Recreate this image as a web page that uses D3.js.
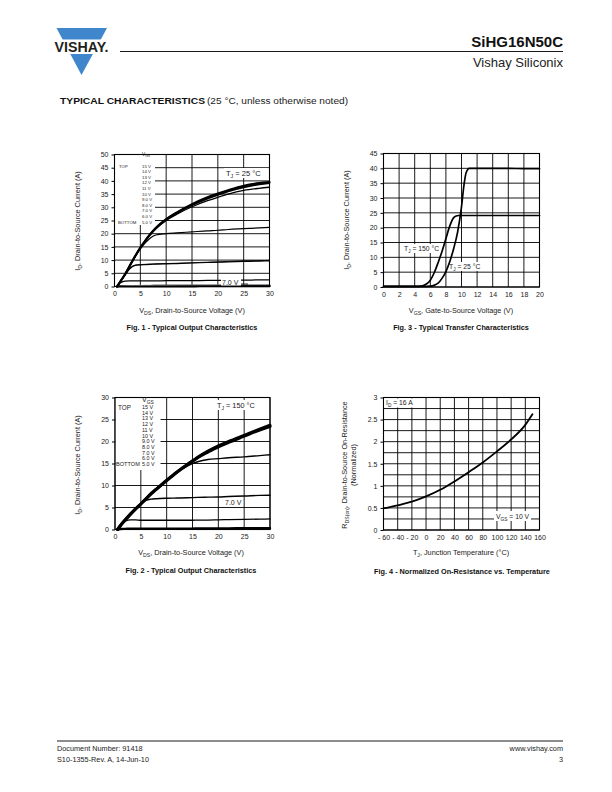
<!DOCTYPE html>
<html><head><meta charset="utf-8">
<script src="https://cdn.jsdelivr.net/npm/d3@7"></script>
<style>
body{margin:0;background:#fff}
svg{display:block;font-family:"Liberation Sans",Arial,Helvetica,sans-serif}
</style>
</head><body>
<svg id="page" width="612" height="792"></svg>
<script>
// ---------------- DATA ----------------
// Fig. 1 - Output characteristics, TJ = 25 °C
const fig1Vds   = [0.5, 1, 2, 3, 4, 5, 6, 7, 8, 10, 12, 15, 18, 20, 22, 25, 28, 30];
const fig1Id15  = [0, 1.5, 4.5, 8, 11.5, 14.7, 17.5, 20, 22.2, 25.5, 28, 31.2, 33.8, 35.2, 36.5, 38.2, 39.2, 39.6];
const fig1Id10  = [0, 1.5, 4.5, 8, 11.5, 14.7, 17.5, 20, 22.2, 25.3, 27.8, 30.8, 33.3, 34.7, 36, 37.6, 38.7, 39.2];
const fig1Id8   = [0, 1.5, 4.5, 8, 11.4, 14.6, 17.3, 19.7, 21.8, 25, 27.3, 30.2, 32.5, 33.8, 35, 36.4, 37.2, 37.6];
const fig1Id7   = [0, 1.5, 4.5, 8, 11.3, 14.2, 16.6, 18.5, 19.5, 20, 20.3, 20.7, 21.1, 21.3, 21.6, 21.9, 22.2, 22.4];
const fig1Id6   = [0, 1.4, 4.2, 6.8, 8, 8.2, 8.3, 8.4, 8.5, 8.6, 8.7, 8.9, 9.1, 9.2, 9.3, 9.5, 9.6, 9.7];
const fig1Id6b  = [0, 1.4, 4.2, 6.9, 8.1, 8.3, 8.4, 8.5, 8.6, 8.7, 8.8, 9.0, 9.2, 9.3, 9.5, 9.7, 9.8, 9.9];
const fig1Id5   = [0, 1.2, 2.0, 2.1, 2.1, 2.1, 2.1, 2.1, 2.1, 2.2, 2.2, 2.2, 2.3, 2.3, 2.4, 2.4, 2.5, 2.5];
const fig1IdLow = [0, 0.2, 0.3, 0.35, 0.4, 0.4, 0.45, 0.45, 0.5, 0.5, 0.55, 0.6, 0.6, 0.65, 0.65, 0.7, 0.7, 0.7];
const fig1Id0   = [0, 0.1, 0.1, 0.1, 0.1, 0.1, 0.1, 0.1, 0.15, 0.15, 0.15, 0.15, 0.2, 0.2, 0.2, 0.2, 0.2, 0.2];
const fig1Legend = ["15 V","14 V","13 V","12 V","11 V","10 V","9.0 V","8.0 V","7.0 V","6.0 V","5.0 V"];

// Fig. 2 - Output characteristics, TJ = 150 °C
const fig2Vds   = [0.5, 1, 2, 3, 4, 5, 6, 7, 8, 10, 12, 14, 15, 16, 18, 20, 22, 25, 28, 30];
const fig2Id15  = [0, 0.8, 2.2, 3.5, 4.7, 5.8, 7, 8.2, 9.2, 11.2, 13.1, 14.8, 15.6, 16.4, 17.8, 19, 20, 21.4, 22.8, 23.7];
const fig2Id14  = [0, 0.8, 2.2, 3.5, 4.7, 5.8, 7, 8.1, 9.1, 11.1, 13.0, 14.7, 15.5, 16.3, 17.6, 18.8, 19.8, 21.2, 22.6, 23.4];
const fig2Id8   = [0, 0.8, 2.2, 3.5, 4.7, 5.8, 7, 8.1, 9.1, 11.1, 13.0, 14.4, 15.0, 15.4, 15.9, 16.1, 16.3, 16.5, 16.8, 17.0];
const fig2Id7   = [0, 0.8, 2.2, 3.5, 4.7, 5.7, 6.6, 6.9, 7.0, 7.1, 7.15, 7.2, 7.25, 7.3, 7.35, 7.4, 7.5, 7.6, 7.75, 7.8];
const fig2Id6   = [0, 0.8, 1.9, 2.2, 2.2, 2.1, 2.1, 2.1, 2.1, 2.1, 2.1, 2.1, 2.1, 2.15, 2.15, 2.2, 2.25, 2.3, 2.35, 2.4];
const fig2Id0   = [0, 0.1, 0.15, 0.2, 0.2, 0.2, 0.2, 0.2, 0.2, 0.2, 0.2, 0.2, 0.2, 0.25, 0.25, 0.25, 0.25, 0.3, 0.3, 0.3];
const fig2Legend = fig1Legend;

// Fig. 3 - Transfer characteristics
const fig3Vgs25  = [0, 2, 4, 5, 6, 6.5, 7, 7.5, 8, 8.5, 9, 9.5, 10, 10.3, 10.6, 11, 12, 14, 16, 18, 20];
const fig3Id25   = [0.2, 0.2, 0.2, 0.2, 0.3, 0.6, 1.3, 2.9, 5.2, 8.6, 13, 18.5, 27, 34, 38.6, 40, 40, 40, 40, 39.9, 39.9];
const fig3Vgs150 = [0, 2, 4, 5, 5.5, 6, 6.5, 7, 7.5, 8, 8.5, 9, 9.3, 9.6, 10, 12, 14, 16, 18, 20];
const fig3Id150  = [0.2, 0.2, 0.2, 0.4, 1.0, 2.3, 4.8, 8.2, 12, 16.3, 20.6, 23.4, 23.9, 24.1, 24.1, 24.1, 24.1, 24.1, 24.1, 24.1];

// Fig. 4 - Normalized on-resistance vs. temperature
const fig4Tj  = [-60, -40, -20, 0, 20, 40, 60, 80, 100, 120, 140, 150];
const fig4Rds = [0.49, 0.56, 0.64, 0.76, 0.91, 1.1, 1.31, 1.53, 1.78, 2.05, 2.38, 2.62];

// tick values
const ticks0to30by5 = [0, 5, 10, 15, 20, 25, 30];
const ticks0to50by5 = [0, 5, 10, 15, 20, 25, 30, 35, 40, 45, 50];
const ticks0to45by5 = [0, 5, 10, 15, 20, 25, 30, 35, 40, 45];
const ticks0to20by2 = [0, 2, 4, 6, 8, 10, 12, 14, 16, 18, 20];
const ticksTemp = [-60, -40, -20, 0, 20, 40, 60, 80, 100, 120, 140, 160];
const ticksRds  = [0, 0.5, 1, 1.5, 2, 2.5, 3];
const gridRds   = [0, 0.25, 0.5, 0.75, 1, 1.25, 1.5, 1.75, 2, 2.25, 2.5, 2.75, 3];

// ---------------- DRAWING ----------------
const svg = d3.select("#page");
const FONT = '"Liberation Sans",Arial,Helvetica,sans-serif';

// rich text with subscripts: segs = [[text, isSub], ...]
function rich(parent, x, y, segs, size, opts = {}) {
  const t = parent.append("text").attr("x", x).attr("y", y)
    .attr("font-size", size).attr("fill", opts.fill || "#222")
    .attr("text-anchor", opts.anchor || "start");
  if (opts.weight) t.attr("font-weight", opts.weight);
  if (opts.rotate) t.attr("transform", `rotate(${opts.rotate},${x},${y})`);
  let sub = false;
  segs.forEach(([s, isSub]) => {
    const ts = t.append("tspan").text(s);
    if (isSub && !sub) { ts.attr("dy", size * 0.3).attr("font-size", size * 0.7); sub = true; }
    else if (isSub) { ts.attr("font-size", size * 0.7); }
    else if (!isSub && sub) { ts.attr("dy", -size * 0.3); sub = false; }
  });
  return t;
}

function whiteBox(parent, x, y, w, h) {
  parent.append("rect").attr("x", x).attr("y", y).attr("width", w).attr("height", h).attr("fill", "#fff");
}

function panel(cfg) {
  const g = svg.append("g");
  const x = d3.scaleLinear().domain(cfg.xDomain).range([cfg.x0, cfg.x1]);
  const y = d3.scaleLinear().domain(cfg.yDomain).range([cfg.y1, cfg.y0]);
  // grid
  g.append("g").selectAll("line").data(cfg.xGrid).join("line")
    .attr("x1", d => x(d)).attr("x2", d => x(d)).attr("y1", cfg.y0).attr("y2", cfg.y1)
    .attr("stroke", "#000").attr("stroke-width", 0.9);
  g.append("g").selectAll("line").data(cfg.yGrid).join("line")
    .attr("y1", d => y(d)).attr("y2", d => y(d)).attr("x1", cfg.x0).attr("x2", cfg.x1)
    .attr("stroke", "#000").attr("stroke-width", 0.9);
  // axes
  const ya = g.append("g").attr("transform", `translate(${cfg.x0},0)`)
    .call(d3.axisLeft(y).tickValues(cfg.yTicks).tickSize(3).tickPadding(3).tickFormat(cfg.yFmt || (d => d)));
  ya.select(".domain").remove();
  ya.selectAll("text").attr("font-size", 7).attr("font-family", FONT).attr("fill", "#222");
  ya.selectAll("line").attr("stroke", "#000");
  const xa = g.append("g").attr("transform", `translate(0,${cfg.y1})`)
    .call(d3.axisBottom(x).tickValues(cfg.xTicks).tickSize(0).tickPadding(5).tickFormat(cfg.xFmt || (d => d)));
  xa.select(".domain").remove();
  xa.selectAll("text").attr("font-size", 7).attr("font-family", FONT).attr("fill", "#222");
  // legend box (covers grid)
  if (cfg.legendBox) whiteBox(g, cfg.x0 + 0.5, cfg.y0 + 0.5, cfg.legendBox[0], cfg.legendBox[1]);
  // layer for labels drawn beneath the curves
  const under = g.append("g");
  // curves
  const line = d3.line().x(d => x(d[0])).y(d => y(d[1])).curve(d3.curveMonotoneX);
  cfg.series.forEach(s => {
    g.append("path").datum(s.xs.map((v, i) => [v, s.ys[i]]))
      .attr("d", line).attr("fill", "none").attr("stroke", s.color || "#000")
      .attr("stroke-width", s.w).attr("stroke-linejoin", "round").attr("stroke-linecap", "round");
  });
  // frame
  g.append("rect").attr("x", cfg.x0).attr("y", cfg.y0).attr("width", cfg.x1 - cfg.x0).attr("height", cfg.y1 - cfg.y0)
    .attr("fill", "none").attr("stroke", "#000").attr("stroke-width", 1.1);
  return { g, under, x, y };
}

// ---------- Header ----------
const blue = "#3f86cc";
svg.append("path").attr("d", "M56.5,28 L107,28 L81.5,75 Z").attr("fill", blue);
svg.append("rect").attr("x", 50).attr("y", 39.5).attr("width", 62).attr("height", 14.5).attr("fill", "#fff");
svg.append("text").attr("x", 54.5).attr("y", 52.3).attr("font-size", 14).attr("font-weight", 900)
  .attr("textLength", 54).attr("lengthAdjust", "spacingAndGlyphs").attr("fill", "#231f20").text("VISHAY.");
svg.append("line").attr("x1", 120).attr("x2", 563).attr("y1", 51.5).attr("y2", 51.5).attr("stroke", "#000").attr("stroke-width", 0.9);
svg.append("text").attr("x", 563).attr("y", 47).attr("text-anchor", "end").attr("font-size", 15).attr("font-weight", "bold")
  .attr("fill", "#111").text("SiHG16N50C");
svg.append("text").attr("x", 563).attr("y", 66.5).attr("text-anchor", "end").attr("font-size", 13)
  .attr("fill", "#222").text("Vishay Siliconix");
svg.append("text").attr("x", 60).attr("y", 104).attr("font-size", 8.5).attr("font-weight", 900)
  .attr("textLength", 145).attr("lengthAdjust", "spacingAndGlyphs").attr("fill", "#111").text("TYPICAL CHARACTERISTICS");
svg.append("text").attr("x", 207).attr("y", 104).attr("font-size", 8.5)
  .attr("textLength", 141).attr("lengthAdjust", "spacingAndGlyphs")
  .attr("fill", "#222").text("(25 °C, unless otherwise noted)");

// ---------- Fig. 1 ----------
{
  const p = panel({
    x0: 114.5, x1: 269.5, y0: 154.5, y1: 286.5, xDomain: [0, 30], yDomain: [0, 50],
    xTicks: ticks0to30by5, yTicks: ticks0to50by5, xGrid: ticks0to30by5, yGrid: ticks0to50by5,
    legendBox: [40, 70],
    series: [
      { xs: fig1Vds, ys: fig1Id0, w: 2.6 },
      { xs: fig1Vds, ys: fig1IdLow, w: 0.8, color: "#888" },
      { xs: fig1Vds, ys: fig1Id5, w: 1.2 },
      { xs: fig1Vds, ys: fig1Id6, w: 1.2 },
      { xs: fig1Vds, ys: fig1Id6b, w: 0.9 },
      { xs: fig1Vds, ys: fig1Id7, w: 1.2 },
      { xs: fig1Vds, ys: fig1Id8, w: 1.3 },
      { xs: fig1Vds, ys: fig1Id10, w: 1.9 },
      { xs: fig1Vds, ys: fig1Id15, w: 2.1 }
    ]
  });
  const g = p.g;
  rich(g, 142, 156, [["V", false], ["GS", true]], 4.8);
  g.append("text").attr("x", 119).attr("y", 167.5).attr("font-size", 4.3).attr("fill", "#222").text("TOP");
  g.selectAll(".lg").data(fig1Legend).join("text").attr("x", 142)
    .attr("y", (d, i) => 167.5 + i * 5.6).attr("font-size", 4.3).attr("fill", "#222").text(d => d);
  g.append("text").attr("x", 118).attr("y", 223.5).attr("font-size", 4.3).attr("fill", "#222").text("BOTTOM");
  whiteBox(g, 224, 168, 44, 10);
  rich(g, 226, 176, [["T", false], ["J", true], [" = 25 °C", false]], 7.5);
  whiteBox(g, 221, 278.5, 20, 7);
  g.append("text").attr("x", 222).attr("y", 284.5).attr("font-size", 7).attr("fill", "#222").text("7.0 V");
  g.append("line").attr("x1", 241).attr("x2", 248).attr("y1", 284).attr("y2", 284).attr("stroke", "#000").attr("stroke-width", 0.8);
  rich(g, 192, 313, [["V", false], ["DS", true], [", Drain-to-Source Voltage (V)", false]], 7.3, { anchor: "middle" });
  rich(g, 80, 221, [["I", false], ["D", true], [", Drain-to-Source Current (A)", false]], 7.3, { anchor: "middle", rotate: -90 });
  g.append("text").attr("x", 192).attr("y", 329.5).attr("text-anchor", "middle").attr("font-size", 7.3)
    .attr("font-weight", "bold").attr("fill", "#111").text("Fig. 1 - Typical Output Characteristics");
}

// ---------- Fig. 3 ----------
{
  const p = panel({
    x0: 383.5, x1: 539.5, y0: 153.5, y1: 287, xDomain: [0, 20], yDomain: [0, 45],
    xTicks: ticks0to20by2, yTicks: ticks0to45by5, xGrid: ticks0to20by2, yGrid: ticks0to45by5,
    series: [
      { xs: fig3Vgs150, ys: fig3Id150, w: 1.7 },
      { xs: fig3Vgs25, ys: fig3Id25, w: 1.7 }
    ]
  });
  const g = p.g, u = p.under;
  whiteBox(u, 403, 244, 38, 9);
  rich(u, 404, 251, [["T", false], ["J", true], [" = 150 °C", false]], 6.8);
  whiteBox(u, 448, 262, 36, 9);
  rich(u, 449, 269, [["T", false], ["J", true], [" = 25 °C", false]], 6.8);
  rich(g, 461, 313, [["V", false], ["GS", true], [", Gate-to-Source Voltage (V)", false]], 7.3, { anchor: "middle" });
  rich(g, 349, 220, [["I", false], ["D", true], [", Drain-to-Source Current (A)", false]], 7.3, { anchor: "middle", rotate: -90 });
  g.append("text").attr("x", 461).attr("y", 329.5).attr("text-anchor", "middle").attr("font-size", 7.3)
    .attr("font-weight", "bold").attr("fill", "#111").text("Fig. 3 - Typical Transfer Characteristics");
}

// ---------- Fig. 2 ----------
{
  const p = panel({
    x0: 115, x1: 270, y0: 397.5, y1: 529.5, xDomain: [0, 30], yDomain: [0, 30],
    xTicks: ticks0to30by5, yTicks: ticks0to30by5, xGrid: ticks0to30by5, yGrid: ticks0to30by5,
    legendBox: [45, 72],
    series: [
      { xs: fig2Vds, ys: fig2Id0, w: 2.4 },
      { xs: fig2Vds, ys: fig2Id6, w: 1.3 },
      { xs: fig2Vds, ys: fig2Id7, w: 1.4 },
      { xs: fig2Vds, ys: fig2Id8, w: 1.4 },
      { xs: fig2Vds, ys: fig2Id14, w: 3 },
      { xs: fig2Vds, ys: fig2Id15, w: 3 }
    ]
  });
  const g = p.g;
  rich(g, 142, 402, [["V", false], ["GS", true]], 7);
  g.append("text").attr("x", 118).attr("y", 410).attr("font-size", 6.3).attr("fill", "#222").text("TOP");
  g.selectAll(".lg").data(fig2Legend).join("text").attr("x", 142)
    .attr("y", (d, i) => 409 + i * 5.7).attr("font-size", 5.4)
    .attr("fill", "#222").text(d => d);
  g.append("text").attr("x", 116).attr("y", 466).attr("font-size", 5.6).attr("fill", "#222").text("BOTTOM");
  whiteBox(g, 216, 400, 40, 10);
  rich(g, 217, 408, [["T", false], ["J", true], [" = 150 °C", false]], 7.3);
  whiteBox(g, 224, 498, 19, 8);
  g.append("text").attr("x", 225).attr("y", 504.5).attr("font-size", 7).attr("fill", "#222").text("7.0 V");
  rich(g, 191, 555, [["V", false], ["DS", true], [", Drain-to-Source Voltage (V)", false]], 7.3, { anchor: "middle" });
  rich(g, 80, 465, [["I", false], ["D", true], [", Drain-to-Source Current (A)", false]], 7.3, { anchor: "middle", rotate: -90 });
  g.append("text").attr("x", 191).attr("y", 572.5).attr("text-anchor", "middle").attr("font-size", 7.3)
    .attr("font-weight", "bold").attr("fill", "#111").text("Fig. 2 - Typical Output Characteristics");
}

// ---------- Fig. 4 ----------
{
  const p = panel({
    x0: 383.5, x1: 539.5, y0: 397.5, y1: 530, xDomain: [-60, 160], yDomain: [0, 3],
    xTicks: ticksTemp, yTicks: ticksRds, xGrid: ticksTemp, yGrid: gridRds,
    xFmt: d => d < 0 ? "- " + Math.abs(d) : String(d),
    series: [
      { xs: fig4Tj, ys: fig4Rds, w: 1.8 }
    ]
  });
  const g = p.g;
  whiteBox(g, 384.5, 398.5, 31, 9);
  rich(g, 386, 405, [["I", false], ["D", true], [" = 16 A", false]], 6.8);
  whiteBox(g, 494, 511, 37, 10);
  rich(g, 496, 519, [["V", false], ["GS", true], [" = 10 V", false]], 6.8);
  rich(g, 461, 555, [["T", false], ["J", true], [", Junction Temperature (°C)", false]], 7.3, { anchor: "middle" });
  rich(g, 347, 465, [["R", false], ["DS(on)", true], [", Drain-to-Source On-Resistance", false]], 7.3, { anchor: "middle", rotate: -90 });
  g.append("text").attr("x", 356).attr("y", 465).attr("text-anchor", "middle").attr("font-size", 7.3)
    .attr("fill", "#222").attr("transform", "rotate(-90,356,465)").text("(Normalized)");
  g.append("text").attr("x", 462).attr("y", 573.5).attr("text-anchor", "middle").attr("font-size", 7.3)
    .attr("font-weight", "bold").attr("fill", "#111").text("Fig. 4 - Normalized On-Resistance vs. Temperature");
}

// ---------- Footer ----------
svg.append("line").attr("x1", 57).attr("x2", 563).attr("y1", 741).attr("y2", 741).attr("stroke", "#000").attr("stroke-width", 0.9);
svg.append("text").attr("x", 57).attr("y", 751).attr("font-size", 7.3).attr("fill", "#222").text("Document Number: 91418");
svg.append("text").attr("x", 57).attr("y", 762).attr("font-size", 7.3).attr("fill", "#222").text("S10-1355-Rev. A, 14-Jun-10");
svg.append("text").attr("x", 563).attr("y", 751).attr("text-anchor", "end").attr("font-size", 7.3).attr("fill", "#222").text("www.vishay.com");
svg.append("text").attr("x", 563).attr("y", 762).attr("text-anchor", "end").attr("font-size", 7.3).attr("fill", "#222").text("3");
</script>
</body></html>
